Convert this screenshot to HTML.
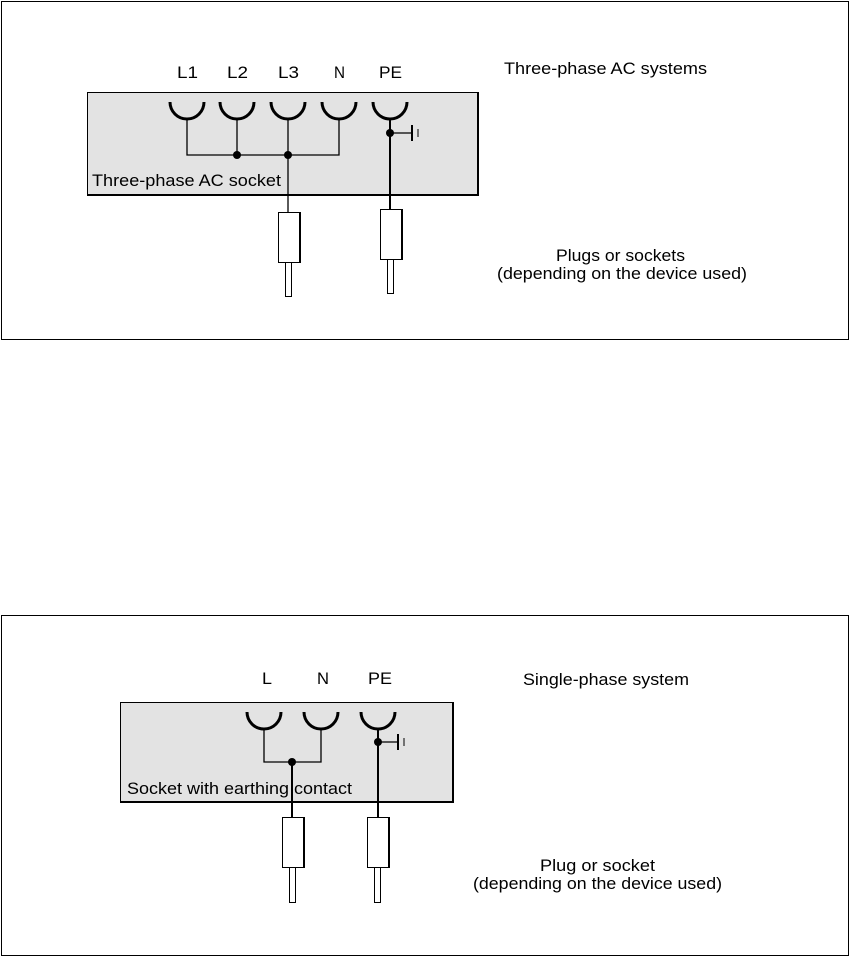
<!DOCTYPE html>
<html><head><style>
body{margin:0;background:#fff}
svg text{font-family:"Liberation Sans",sans-serif;font-size:16.5px;fill:#000}
</style></head><body>
<svg width="851" height="957" viewBox="0 0 851 957" xmlns="http://www.w3.org/2000/svg">
<rect x="1.5" y="1.5" width="847" height="338" fill="none" stroke="#000" stroke-width="1"/>
<rect x="1.5" y="615.5" width="847" height="340" fill="none" stroke="#000" stroke-width="1"/>

<!-- TOP -->
<rect x="87.5" y="92.5" width="390" height="102" fill="#e3e3e3" stroke="#000" stroke-width="1"/>
<line x1="87" y1="195" x2="479" y2="195" stroke="#000" stroke-width="2"/>
<line x1="478" y1="92" x2="478" y2="196" stroke="#000" stroke-width="2"/>
<g fill="none" stroke="#000" stroke-width="3">
<path d="M170 102 A17 17 0 0 0 204 102"/>
<path d="M220 102 A17 17 0 0 0 254 102"/>
<path d="M271 102 A17 17 0 0 0 305 102"/>
<path d="M322 102 A17 17 0 0 0 356 102"/>
<path d="M373 102 A17 17 0 0 0 407 102"/>
</g>
<g stroke="#000" stroke-width="1.3" fill="none">
<polyline points="187,120 187,155 339,155 339,120"/>
<line x1="237" y1="120" x2="237" y2="155"/>
<line x1="288" y1="120" x2="288" y2="212"/>
<line x1="390" y1="133" x2="412" y2="133"/>
</g>
<line x1="390" y1="120" x2="390" y2="210" stroke="#000" stroke-width="2"/>
<line x1="412" y1="125" x2="412" y2="141" stroke="#000" stroke-width="2"/>
<line x1="418" y1="129" x2="418" y2="137" stroke="#000" stroke-width="1"/>
<circle cx="237" cy="155" r="4"/><circle cx="288" cy="155" r="4"/><circle cx="390" cy="133" r="4"/>
<rect x="278.5" y="212.5" width="21" height="50" fill="#fff" stroke="#000"/>
<line x1="300" y1="212" x2="300" y2="263" stroke="#000" stroke-width="2"/>
<rect x="285.5" y="262.5" width="6" height="34" fill="#fff" stroke="#000"/>
<rect x="380.5" y="209.5" width="21" height="50" fill="#fff" stroke="#000"/>
<line x1="402" y1="209" x2="402" y2="260" stroke="#000" stroke-width="2"/>
<rect x="387.5" y="259.5" width="6" height="34" fill="#fff" stroke="#000"/>
<text x="177" y="78" textLength="21" lengthAdjust="spacingAndGlyphs">L1</text>
<text x="227" y="78" textLength="21" lengthAdjust="spacingAndGlyphs">L2</text>
<text x="278" y="78" textLength="21" lengthAdjust="spacingAndGlyphs">L3</text>
<text x="334" y="78" textLength="11" lengthAdjust="spacingAndGlyphs">N</text>
<text x="379" y="78" textLength="23" lengthAdjust="spacingAndGlyphs">PE</text>
<text x="92" y="186" textLength="189" lengthAdjust="spacingAndGlyphs">Three-phase AC socket</text>
<text x="504" y="74" textLength="203" lengthAdjust="spacingAndGlyphs">Three-phase AC systems</text>
<text x="556" y="261" textLength="129" lengthAdjust="spacingAndGlyphs">Plugs or sockets</text>
<text x="497" y="279" textLength="250" lengthAdjust="spacingAndGlyphs">(depending on the device used)</text>

<!-- BOTTOM -->
<rect x="120.5" y="702.5" width="332" height="99" fill="#e3e3e3" stroke="#000" stroke-width="1"/>
<line x1="120" y1="802" x2="454" y2="802" stroke="#000" stroke-width="2"/>
<line x1="453" y1="702" x2="453" y2="803" stroke="#000" stroke-width="2"/>
<g fill="none" stroke="#000" stroke-width="3">
<path d="M247 712 A17 17 0 0 0 281 712"/>
<path d="M304 712 A17 17 0 0 0 338 712"/>
<path d="M361 712 A17 17 0 0 0 395 712"/>
</g>
<g stroke="#000" stroke-width="1.3" fill="none">
<polyline points="264,729 264,762 321,762 321,729"/>
<line x1="378" y1="742" x2="398" y2="742"/>
</g>
<line x1="292" y1="762" x2="292" y2="818" stroke="#000" stroke-width="2"/>
<line x1="378" y1="729" x2="378" y2="818" stroke="#000" stroke-width="2"/>
<line x1="398" y1="734" x2="398" y2="750" stroke="#000" stroke-width="2"/>
<line x1="404" y1="738" x2="404" y2="746" stroke="#000" stroke-width="1"/>
<circle cx="292" cy="762" r="4"/><circle cx="378" cy="742" r="4"/>
<rect x="282.5" y="817.5" width="21" height="50" fill="#fff" stroke="#000"/>
<line x1="304" y1="817" x2="304" y2="868" stroke="#000" stroke-width="2"/>
<rect x="289.5" y="867.5" width="6" height="35" fill="#fff" stroke="#000"/>
<rect x="367.5" y="817.5" width="21" height="50" fill="#fff" stroke="#000"/>
<line x1="389" y1="817" x2="389" y2="868" stroke="#000" stroke-width="2"/>
<rect x="374.5" y="867.5" width="6" height="35" fill="#fff" stroke="#000"/>
<text x="262" y="684" textLength="10" lengthAdjust="spacingAndGlyphs">L</text>
<text x="317" y="684" textLength="12" lengthAdjust="spacingAndGlyphs">N</text>
<text x="368" y="684" textLength="24" lengthAdjust="spacingAndGlyphs">PE</text>
<text x="127" y="794" textLength="225" lengthAdjust="spacingAndGlyphs">Socket with earthing contact</text>
<text x="523" y="685" textLength="166" lengthAdjust="spacingAndGlyphs">Single-phase system</text>
<text x="540" y="871" textLength="115" lengthAdjust="spacingAndGlyphs">Plug or socket</text>
<text x="473" y="889" textLength="249" lengthAdjust="spacingAndGlyphs">(depending on the device used)</text>
</svg>
</body></html>
